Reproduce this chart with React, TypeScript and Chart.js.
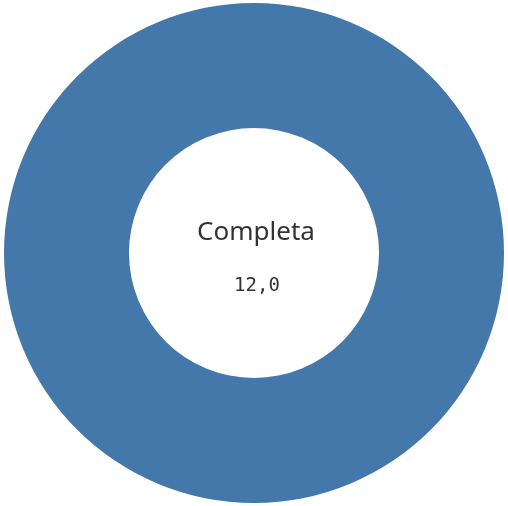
import React, { useEffect, useRef } from "react";
import { Chart, registerables } from "chart.js";

Chart.register(...registerables);

const labels = ["Completa"];
const values = [12.0];
const centerLabel = "Completa";
const centerValue = "12,0";

export default function App() {
  const ref = useRef<HTMLCanvasElement>(null);
  useEffect(() => {
    document.body.style.margin = "0";
    const centerText = {
      id: "centerText",
      afterDraw(chart: any) {
        const { ctx, chartArea } = chart;
        const cx = (chartArea.left + chartArea.right) / 2;
        const cy = (chartArea.top + chartArea.bottom) / 2;
        ctx.save();
        ctx.textAlign = "center";
        ctx.textBaseline = "alphabetic";
        ctx.fillStyle = "#333333";
        ctx.font = "26px 'Noto Sans', sans-serif";
        ctx.fillText(centerLabel, cx + 2, cy - 13);
        ctx.font = "19px 'DejaVu Sans Mono', monospace";
        ctx.fillText(centerValue, cx + 3, cy + 38);
        ctx.restore();
      },
    };
    const chart = new Chart(ref.current!, {
      type: "doughnut",
      data: {
        labels,
        datasets: [
          {
            data: values,
            backgroundColor: ["#4477aa"],
            borderColor: "#ffffff",
            borderWidth: 0,
          },
        ],
      },
      options: {
        animation: false,
        responsive: false,
        cutout: "50%",
        layout: { padding: { top: 3, bottom: 3, left: 4, right: 4 } },
        plugins: { legend: { display: false }, tooltip: { enabled: false } },
      },
      plugins: [centerText],
    });
    return () => chart.destroy();
  }, []);
  return (
    <div style={{ width: 508, height: 506 }}>
      <canvas ref={ref} width={508} height={506} style={{ display: "block" }} />
    </div>
  );
}
